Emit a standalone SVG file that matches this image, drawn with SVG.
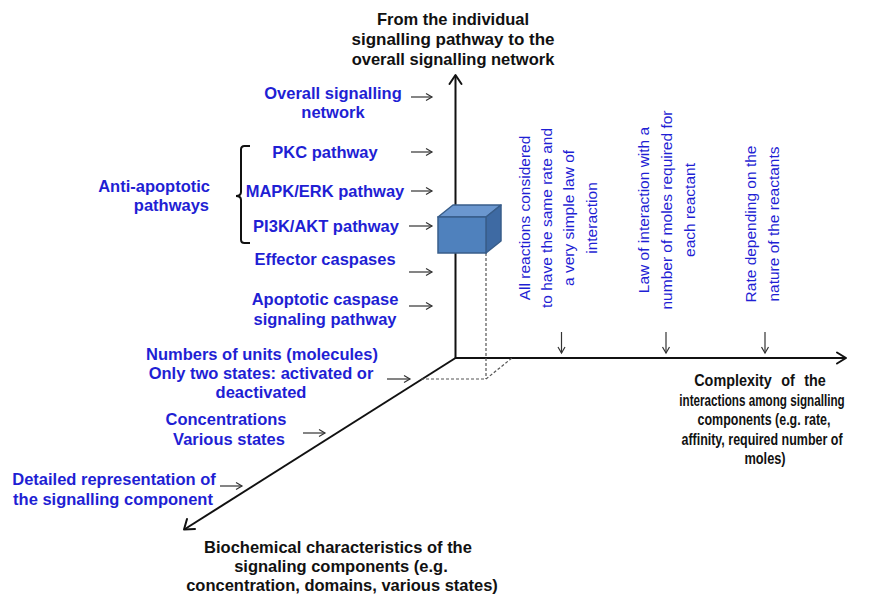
<svg xmlns="http://www.w3.org/2000/svg" width="885" height="596" viewBox="0 0 885 596">
<style>
.lbl{font-family:"Liberation Sans",Arial,sans-serif;font-weight:bold;font-size:16.5px;fill:#1f1fd4;text-anchor:middle}
.lble{font-family:"Liberation Sans",Arial,sans-serif;font-weight:bold;font-size:16.5px;fill:#1f1fd4;text-anchor:end}
.rot{font-family:"Liberation Sans",Arial,sans-serif;font-size:15.5px;fill:#1f1fd4;text-anchor:middle}
.ttl{font-family:"Liberation Sans",Arial,sans-serif;font-weight:bold;font-size:16.5px;fill:#111;text-anchor:middle}
.ttl2{font-family:"Liberation Sans",Arial,sans-serif;font-weight:bold;font-size:16px;fill:#111;text-anchor:middle}
.axis{stroke:#111;stroke-width:2;fill:none}
.ah{stroke:#111;stroke-width:2;fill:none;stroke-linecap:round;stroke-linejoin:round}
.sa{stroke:#333;stroke-width:1.2;fill:none}
.dash{stroke:#555;stroke-width:1.2;stroke-dasharray:3 2;fill:none}
</style>
<defs>
<marker id="open" markerWidth="10" markerHeight="10" refX="8" refY="5" orient="auto" markerUnits="userSpaceOnUse">
<path d="M2,1.5 L8,5 L2,8.5" stroke="#333" stroke-width="1.2" fill="none"/>
</marker>
</defs>
<rect width="885" height="596" fill="#fff"/>

<g id="connectors">
<!-- main axes -->
<line class="axis" x1="455.5" y1="358" x2="455.5" y2="76"/>
<path class="ah" d="M449.5,84 L455.5,75 L461.5,84"/>
<line class="axis" x1="455" y1="358" x2="846" y2="358"/>
<path class="ah" d="M837,352.5 L846,358 L837,363.5"/>
<line class="axis" x1="455.5" y1="358" x2="185" y2="529"/>
<path class="ah" d="M187,519 L184,529.5 L195,529"/>
<!-- dashed projection lines -->
<line class="dash" x1="486" y1="253" x2="486" y2="379"/>
<line class="dash" x1="421" y1="379" x2="486" y2="379"/>
<line class="dash" x1="486" y1="379" x2="512" y2="358"/>
<!-- small right arrows -->
<line class="sa" x1="411" y1="97" x2="432" y2="97" marker-end="url(#open)"/>
<line class="sa" x1="411" y1="152" x2="432" y2="152" marker-end="url(#open)"/>
<line class="sa" x1="411" y1="191" x2="432" y2="191" marker-end="url(#open)"/>
<line class="sa" x1="409" y1="226" x2="432" y2="226" marker-end="url(#open)"/>
<line class="sa" x1="409" y1="272" x2="432" y2="272" marker-end="url(#open)"/>
<line class="sa" x1="409" y1="306" x2="432" y2="306" marker-end="url(#open)"/>
<line class="sa" x1="387" y1="379" x2="410" y2="379" marker-end="url(#open)"/>
<line class="sa" x1="303" y1="433" x2="325" y2="433" marker-end="url(#open)"/>
<line class="sa" x1="220" y1="486" x2="242" y2="486" marker-end="url(#open)"/>
<!-- small down arrows -->
<line class="sa" x1="561.5" y1="332" x2="561.5" y2="353" marker-end="url(#open)"/>
<line class="sa" x1="666" y1="332" x2="666" y2="353" marker-end="url(#open)"/>
<line class="sa" x1="765" y1="332" x2="765" y2="353" marker-end="url(#open)"/>
<!-- brace -->
<path d="M250,146 L244.5,146 Q241,146 241,149.5 L241,192 Q241,196 236,196 Q241,196 241,200 L241,239.5 Q241,243 244.5,243 L250,243" stroke="#111" stroke-width="2" fill="none"/>
</g>

<g id="cube">
<polygon points="438,217 453,205 501,205 486,217" fill="#6b97cf" stroke="#385d8a" stroke-width="1.5" stroke-linejoin="round"/>
<polygon points="486,217 501,205 501,241 486,253" fill="#3e6aa3" stroke="#385d8a" stroke-width="1.5" stroke-linejoin="round"/>
<rect x="438" y="217" width="48" height="36" fill="#4f81bd" stroke="#385d8a" stroke-width="1.5"/>
</g>

<g id="title-vertical">
<text class="ttl" x="453" y="25">From the individual</text>
<text class="ttl" x="453" y="45" style="font-size:17px">signalling pathway to the</text>
<text class="ttl" x="453" y="65">overall signalling network</text>
</g>

<g id="title-horizontal">
<text class="ttl2" transform="translate(760,386) scale(0.9,1)" style="word-spacing:6px">Complexity of the</text>
<text class="ttl2" transform="translate(762,406) scale(0.73,1)">interactions among signalling</text>
<text class="ttl2" transform="translate(764,425) scale(0.78,1)">components (e.g. rate,</text>
<text class="ttl2" transform="translate(762,445) scale(0.78,1)">affinity, required number of</text>
<text class="ttl2" transform="translate(765,464) scale(0.8,1)">moles)</text>
</g>

<g id="title-diagonal">
<text class="ttl" x="338" y="553">Biochemical characteristics of the</text>
<text class="ttl" x="341" y="572">signaling components (e.g.</text>
<text class="ttl" x="342" y="591">concentration, domains, various states)</text>
</g>

<g id="overall-network">
<text class="lbl" x="333" y="99">Overall signalling</text>
<text class="lbl" x="333" y="118">network</text>
</g>
<g id="pkc"><text class="lbl" x="325" y="158">PKC pathway</text></g>
<g id="mapk"><text class="lbl" x="325" y="197">MAPK/ERK pathway</text></g>
<g id="pi3k"><text class="lbl" x="326" y="232">PI3K/AKT pathway</text></g>
<g id="anti-apoptotic">
<text class="lble" x="210" y="192">Anti-apoptotic</text>
<text class="lble" x="209" y="211">pathways</text>
</g>
<g id="effector"><text class="lbl" x="325" y="265">Effector caspases</text></g>
<g id="apoptotic">
<text class="lbl" x="325" y="305">Apoptotic caspase</text>
<text class="lbl" x="325" y="325">signaling pathway</text>
</g>
<g id="units">
<text class="lbl" x="262" y="360">Numbers of units (molecules)</text>
<text class="lbl" x="261" y="379">Only two states: activated or</text>
<text class="lbl" x="261" y="398">deactivated</text>
</g>
<g id="concentrations">
<text class="lbl" x="226" y="425">Concentrations</text>
<text class="lbl" x="229" y="445">Various states</text>
</g>
<g id="detailed">
<text class="lbl" x="114" y="485">Detailed representation of</text>
<text class="lbl" x="113" y="505">the signalling component</text>
</g>

<g id="simple-law" transform="translate(0,218)">
<text class="rot" transform="translate(530,0) rotate(-90)">All reactions considered</text>
<text class="rot" transform="translate(552,0) rotate(-90)">to have the same rate and</text>
<text class="rot" transform="translate(574,0) rotate(-90)">a very simple law of</text>
<text class="rot" transform="translate(597,0) rotate(-90)">interaction</text>
</g>
<g id="moles-law" transform="translate(0,210)">
<text class="rot" transform="translate(649,0) rotate(-90)">Law of interaction with a</text>
<text class="rot" transform="translate(672,0) rotate(-90)">number of moles required for</text>
<text class="rot" transform="translate(695,0) rotate(-90)">each reactant</text>
</g>
<g id="rate-nature" transform="translate(0,224)">
<text class="rot" transform="translate(756,0) rotate(-90)">Rate depending on the</text>
<text class="rot" transform="translate(779,0) rotate(-90)">nature of the reactants</text>
</g>
</svg>
